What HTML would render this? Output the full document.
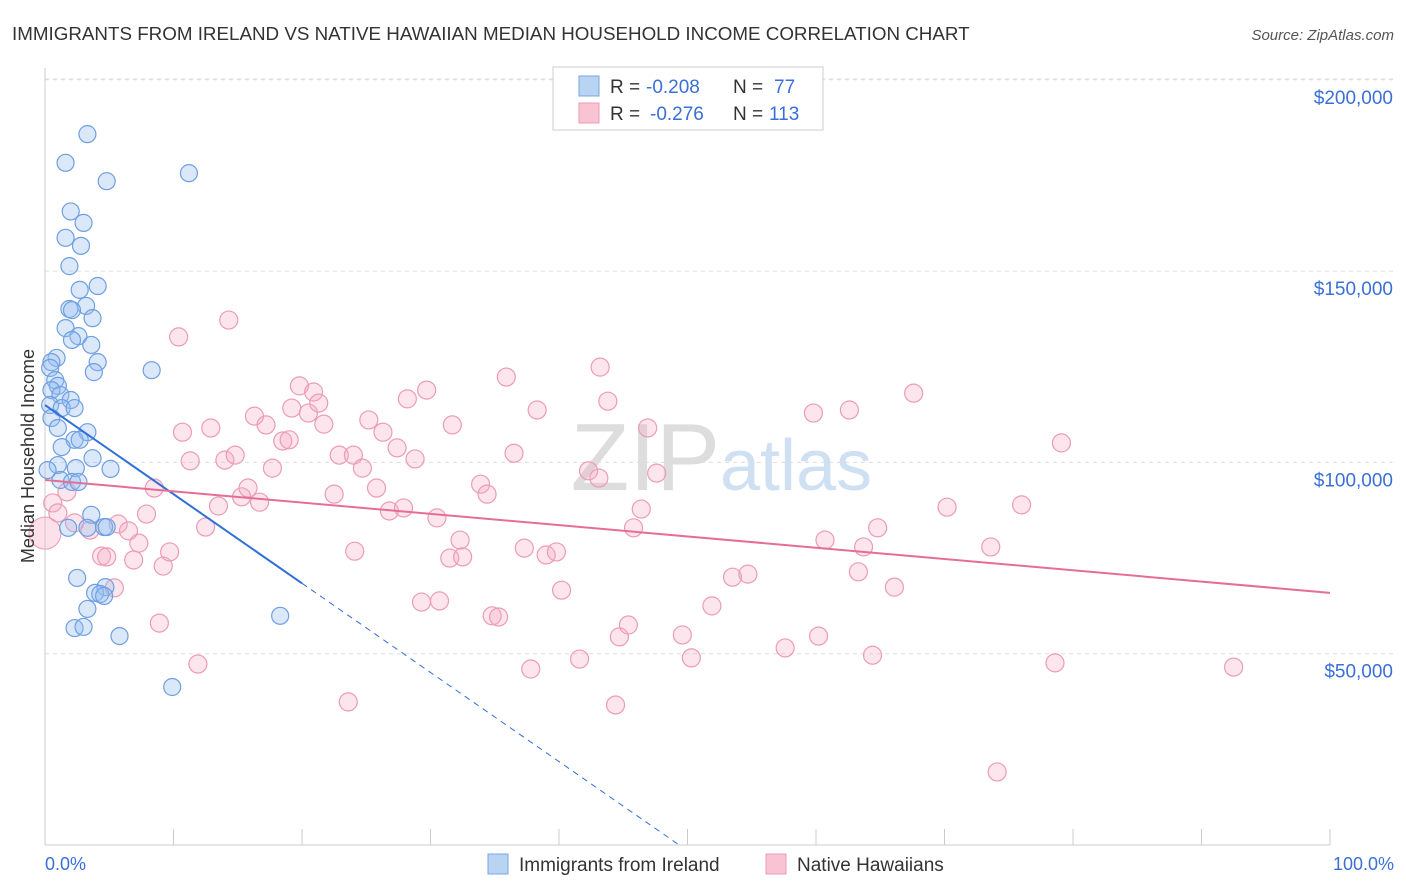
<!DOCTYPE html>
<html><head><meta charset="utf-8">
<style>
body{margin:0;background:#fff;font-family:"Liberation Sans",sans-serif;}
#wrap{position:relative;width:1406px;height:892px;overflow:hidden;}
svg text{font-family:"Liberation Sans",sans-serif;white-space:pre;}
</style></head>
<body><div id="wrap">
<svg id="svg" width="1406" height="892" xmlns="http://www.w3.org/2000/svg">
<text x="12" y="40" font-size="18.8" fill="#333">IMMIGRANTS FROM IRELAND VS NATIVE HAWAIIAN MEDIAN HOUSEHOLD INCOME CORRELATION CHART</text>
<text x="1394" y="40" font-size="15" fill="#555" font-style="italic" text-anchor="end">Source: ZipAtlas.com</text>
<text x="720" y="490" font-size="96" fill="#ddd" font-family="Liberation Serif" text-anchor="end">ZIP</text>
<text x="720" y="490" font-size="72" fill="#cfe0f3">atlas</text>
<g id="grid"></g><g id="pts"></g><g id="lines"></g>
<text transform="translate(34,456) rotate(-90)" font-size="18" fill="#333" text-anchor="middle">Median Household Income</text>
<text x="45" y="870" font-size="18" fill="#3a6fd8">0.0%</text>
<text x="1394" y="870" font-size="18" fill="#3a6fd8" text-anchor="end">100.0%</text>
<g>
<rect x="553" y="67" width="270" height="63" fill="#fff" stroke="#ccc"/>
<rect x="579" y="76" width="20" height="20" fill="#b9d3f3" stroke="#7aa5e3"/>
<rect x="579" y="103" width="20" height="20" fill="#f8c4d4" stroke="#eb9ab5"/>
<text x="610" y="93" font-size="19" fill="#333">R =</text>
<text x="646" y="93" font-size="19" fill="#3a6fd8">-0.208</text>
<text x="733" y="93" font-size="19" fill="#333">N =</text>
<text x="774" y="93" font-size="19" fill="#3a6fd8">77</text>
<text x="610" y="120" font-size="19" fill="#333">R =</text>
<text x="650" y="120" font-size="19" fill="#3a6fd8">-0.276</text>
<text x="733" y="120" font-size="19" fill="#333">N =</text>
<text x="769" y="120" font-size="19" fill="#3a6fd8">113</text>
</g>
<g>
<rect x="488" y="854" width="20" height="20" fill="#b9d3f3" stroke="#7aa5e3"/>
<text x="519" y="871" font-size="19" fill="#333">Immigrants from Ireland</text>
<rect x="766" y="854" width="20" height="20" fill="#f8c4d4" stroke="#eb9ab5"/>
<text x="797" y="871" font-size="19" fill="#333">Native Hawaiians</text>
</g>
</svg></div>
<script>
const yTicks=[50,100,150,200];
const yTickLabels=["$50,000","$100,000","$150,000","$200,000"];
const blueX=[3.3,1.6,4.8,11.2,2.0,3.0,1.6,2.8,1.9,4.1,2.7,3.2,1.9,2.1,3.7,1.6,2.6,2.1,3.6,0.9,0.5,4.1,0.4,3.8,8.3,0.8,1.0,0.5,1.2,2.0,0.4,1.3,2.3,0.5,1.0,3.3,2.3,2.7,1.3,3.7,1.0,0.2,2.4,5.1,1.2,2.1,2.6,3.6,1.8,3.3,4.6,4.8,2.5,4.7,3.9,4.3,4.6,3.3,18.3,2.3,3.0,5.8,9.9];
const blueY=[185.8,178.3,173.5,175.6,165.6,162.6,158.7,156.6,151.3,146.1,145.1,140.9,140.1,139.8,137.7,135.1,133.0,132.0,130.7,127.3,126.2,126.2,124.7,123.6,124.1,121.5,120.0,118.9,117.6,116.3,115.0,114.2,114.2,111.6,109.0,107.9,105.9,105.9,104.0,101.1,99.3,98.0,98.5,98.3,95.4,94.9,94.9,86.3,82.9,82.9,83.1,83.1,69.8,67.4,65.9,65.6,65.1,61.7,59.9,56.7,57.0,54.6,41.3];
const pinkX=[0.6,1.7,1.0,2.3,3.5,5.7,4.4,4.8,7.3,6.5,7.9,8.5,6.9,5.4,9.2,9.7,8.9,11.9,10.4,14.3,10.7,12.9,11.3,13.5,12.5,14.0,14.8,15.3,15.8,16.7,16.3,17.2,17.7,18.5,19.0,19.2,19.8,20.5,20.9,21.3,21.7,22.5,22.9,24.0,24.7,24.1,23.6,25.2,25.8,26.3,26.8,27.4,27.9,28.2,28.8,29.7,29.3,30.5,30.7,31.7,32.3,31.5,32.5,33.9,34.4,34.8,35.3,35.9,36.5,37.3,37.8,38.3,39.0,39.8,40.2,41.6,42.3,43.1,43.2,43.8,44.4,44.7,45.4,45.8,46.4,46.9,47.6,49.6,50.3,51.9,53.5,54.7,57.6,59.8,60.2,60.7,62.6,63.7,64.4,63.3,64.8,66.1,67.6,70.2,73.6,74.1,76.0,78.6,79.1,92.5];
const pinkY=[89.4,92.3,86.8,84.2,82.3,83.9,75.5,75.3,78.9,82.1,86.5,93.3,74.5,67.2,72.9,76.6,58.0,47.3,132.8,137.2,107.9,109.0,100.4,88.6,83.1,100.6,101.9,91.0,93.3,89.6,112.1,109.8,98.5,105.6,105.9,114.2,120.0,112.9,118.4,115.5,110.0,91.7,101.9,101.9,98.5,76.8,37.4,111.1,93.3,107.9,87.3,103.8,88.1,116.6,100.9,118.9,63.5,85.5,63.8,109.8,79.7,75.0,75.3,94.3,91.7,59.9,59.6,122.3,102.4,77.6,46.0,113.7,75.8,76.6,66.6,48.6,97.8,95.9,124.9,116.0,36.6,54.4,57.5,82.9,87.8,109.0,97.2,54.9,48.9,62.5,70.0,70.8,51.5,112.9,54.6,79.7,113.7,77.9,49.6,71.4,82.9,67.4,118.1,88.3,77.9,19.1,88.9,47.6,105.1,46.5];
const blueTrend=[115.0,-2.33];
const pinkTrend=[95.4,-0.295];
const X=p=>45+p*12.85, Y=v=>845-v*3.826;
const NS="http://www.w3.org/2000/svg";
function mk(t,a,parent){const e=document.createElementNS(NS,t);for(const k in a)e.setAttribute(k,a[k]);parent.appendChild(e);return e;}
const grid=document.getElementById('grid'),pts=document.getElementById('pts'),lines=document.getElementById('lines');
mk('line',{x1:45,y1:79,x2:1394,y2:79,stroke:'#ddd','stroke-dasharray':'4,4'},grid);
yTicks.forEach((t,i)=>{
 const g=mk('line',{x1:45,y1:Y(t),x2:1394,y2:Y(t),stroke:'#ddd','stroke-dasharray':'4,4'},grid);
 
 
 const tx=mk('text',{x:1393,y:Y(t)+24,'font-size':19,fill:'#3a6fd8','text-anchor':'end'},grid);
 tx.textContent=yTickLabels[i];
 
 
});
const ax=mk('line',{x1:45,y1:845,x2:1330,y2:845,stroke:'#ccc'},grid);


const ay=mk('line',{x1:45,y1:68,x2:45,y2:845,stroke:'#ccc'},grid);


for(let i=0;i<=10;i++){const tk=mk('line',{x1:X(i*10),y1:829,x2:X(i*10),y2:845,stroke:'#ccc'},grid);
 
 }
pinkX.forEach((x,i)=>{const c=mk('circle',{cx:X(x),cy:Y(pinkY[i]),r:9,fill:'rgba(245,170,195,0.3)',stroke:'#ec9bb6','stroke-width':1.2},pts);
 
 });
const big=mk('circle',{cx:X(0),cy:Y(81.5),r:16,fill:'rgba(245,170,195,0.35)',stroke:'#ec9bb6'},pts);


blueX.forEach((x,i)=>{const c=mk('circle',{cx:X(x),cy:Y(blueY[i]),r:8.5,fill:'rgba(150,190,240,0.35)',stroke:'#6f9fe0','stroke-width':1.2},pts);
 
 });
const bt=x=>blueTrend[0]+blueTrend[1]*x, pt=x=>pinkTrend[0]+pinkTrend[1]*x;
const l1=mk('line',{x1:X(0),y1:Y(bt(0)),x2:X(20),y2:Y(bt(20)),stroke:'#2f6fd8','stroke-width':2},lines);


const xe=-blueTrend[0]/blueTrend[1];
const l2=mk('line',{x1:X(20),y1:Y(bt(20)),x2:X(xe),y2:Y(0),stroke:'#2f6fd8','stroke-width':1,'stroke-dasharray':'6,5'},lines);


const l3=mk('line',{x1:X(0),y1:Y(pt(0)),x2:X(100),y2:Y(pt(100)),stroke:'#e56e96','stroke-width':2},lines);


</script></body></html>
